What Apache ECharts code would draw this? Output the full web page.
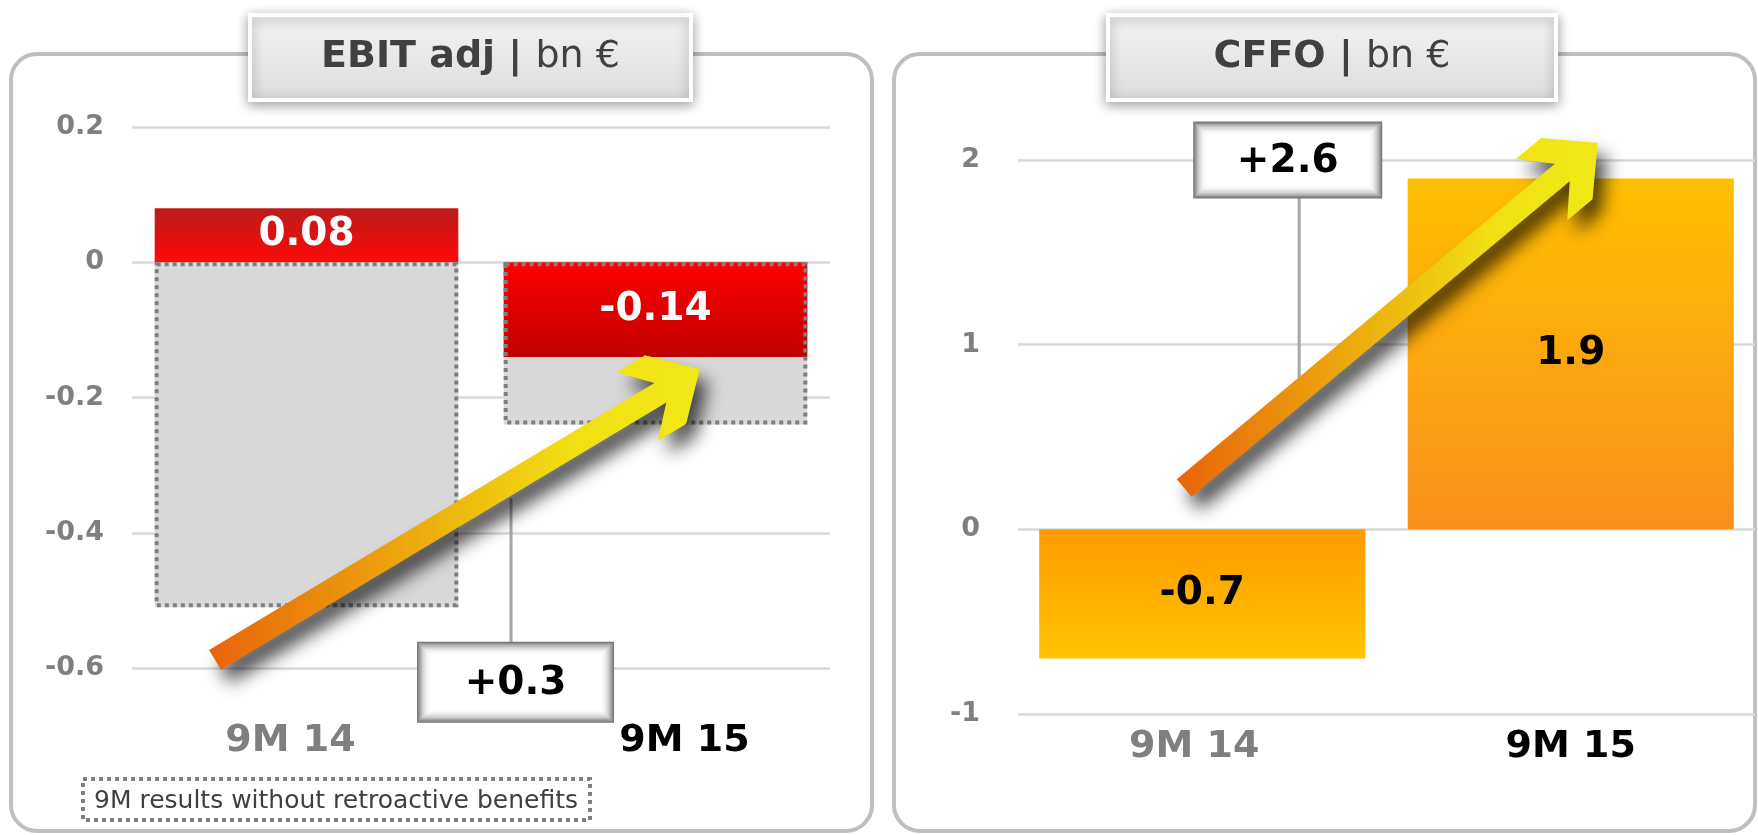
<!DOCTYPE html>
<html>
<head>
    <meta charset="UTF-8">
    <title>EBIT adj / CFFO</title>
    <script src="https://cdn.jsdelivr.net/npm/echarts@6/dist/echarts.min.js"></script>
    <style>
        body { margin: 0; background: #fff; }
        #chart { width: 1758px; height: 835px; }
    </style>
</head>
<body>
    <div id="chart"></div>
    <script>
        // data
        const categories = ['9M 14', '9M 15'];
        const ebitValues = [0.08, -0.14];
        const ebitNoRetro = [-0.51, -0.24];
        const cffoValues = [-0.7, 1.9];
        const ebitRange = [-0.6, 0.2, 0.2];   // min, max, step
        const cffoRange = [-1, 2, 1];
        const titles = ['EBIT adj', 'CFFO'];
        const unit = 'bn €';
        const deltas = ['+0.3', '+2.6'];
        const note = '9M results without retroactive benefits';

        const FONT = '"DejaVu Sans", Verdana, sans-serif';

        const chart = echarts.init(document.getElementById('chart'));

        function grad(top, bottom) {
            return { type: 'linear', x: 0, y: 0, x2: 0, y2: 1,
                colorStops: [{ offset: 0, color: top }, { offset: 1, color: bottom }] };
        }
        const redItem = v => ({ value: v, itemStyle: { color: v >= 0 ? grad('#bd1c1c', '#ff0808') : grad('#ff0000', '#c00000') } });
        const orangeItem = v => ({ value: v, itemStyle: { color: v >= 0 ? grad('#ffc000', '#f98f1d') : grad('#ff9a00', '#ffc400') } });

        const valueLabel = color => ({
            show: true, position: 'inside', color: color, fontFamily: FONT,
            fontWeight: 'bold', fontSize: 39
        });

        const yAxisBase = {
            type: 'value',
            axisLine: { show: false }, axisTick: { show: false },
            splitLine: { lineStyle: { color: '#d9d9d9', width: 2.5 } },
            axisLabel: { color: '#7f7f7f', fontFamily: FONT, fontWeight: 'bold', fontSize: 27 }
        };

        function xAxis(gridIndex, margin, pads) {
            return {
                type: 'category', gridIndex: gridIndex, data: categories,
                axisLine: { show: false }, axisTick: { show: false },
                axisLabel: {
                    margin: margin,
                    formatter: (v, i) => (i === 0 ? '{g|' : '{k|') + v + '}',
                    rich: {
                        g: { color: '#7f7f7f', fontFamily: FONT, fontWeight: 'bold', fontSize: 38, padding: pads[0] },
                        k: { color: '#000', fontFamily: FONT, fontWeight: 'bold', fontSize: 38, padding: pads[1] }
                    }
                }
            };
        }

        chart.setOption({
            animation: false,
            grid: [
                { left: 132, top: 127, width: 698, height: 541 },
                { left: 1018, top: 160, width: 737, height: 554 }
            ],
            xAxis: [
                xAxis(0, 54, [[0, 32, 0, 0], [0, 0, 0, 58]]),
                xAxis(1, 14, [[0, 16, 0, 0], [0, 0, 0, 0]])
            ],
            yAxis: [
                Object.assign({}, yAxisBase, { gridIndex: 0, min: ebitRange[0], max: ebitRange[1], interval: ebitRange[2],
                    axisLabel: Object.assign({}, yAxisBase.axisLabel, { margin: 28 }) }),
                Object.assign({}, yAxisBase, { gridIndex: 1, min: cffoRange[0], max: cffoRange[1], interval: cffoRange[2],
                    axisLabel: Object.assign({}, yAxisBase.axisLabel, { margin: 38 }) })
            ],
            series: [
                {   // grey area: results without retroactive benefits
                    type: 'bar', xAxisIndex: 0, yAxisIndex: 0, barWidth: '87%', barGap: '-100%',
                    data: ebitNoRetro, itemStyle: { color: '#d9d9d9' }, silent: true
                },
                {
                    type: 'bar', xAxisIndex: 0, yAxisIndex: 0, barWidth: '87%', barGap: '-100%',
                    data: ebitValues.map(redItem), label: valueLabel('#fff')
                },
                {   // dotted outline on top
                    type: 'bar', xAxisIndex: 0, yAxisIndex: 0, barWidth: '87%', barGap: '-100%',
                    data: ebitNoRetro, silent: true,
                    itemStyle: { color: 'rgba(0,0,0,0)', borderColor: '#7f7f7f', borderWidth: 4, borderType: [4, 4] }
                },
                {
                    type: 'bar', xAxisIndex: 1, yAxisIndex: 1, barWidth: '88.5%',
                    data: cffoValues.map(orangeItem), label: valueLabel('#000')
                }
            ]
        });

        // pixel position of (fractional category position, value) in a grid
        function px(g, catPos, val) {
            const c0 = chart.convertToPixel({ xAxisIndex: g }, categories[0]);
            const c1 = chart.convertToPixel({ xAxisIndex: g }, categories[1]);
            const y = chart.convertToPixel({ yAxisIndex: g }, val);
            return [c0 + catPos * (c1 - c0), y];
        }

        function arrow(tail, tip) {
            const dx = tip[0] - tail[0], dy = tip[1] - tail[1];
            const L = Math.sqrt(dx * dx + dy * dy);
            const u = [dx / L, dy / L], n = [u[1], -u[0]];
            const local = [[0, 11.5], [L - 46, 11.5], [L - 73, 40], [L - 40, 40], [L, 0],
                [L - 40, -40], [L - 73, -40], [L - 46, -11.5], [0, -11.5]];
            const pts = local.map(([a, b]) => [tail[0] + u[0] * a + n[0] * b, tail[1] + u[1] * a + n[1] * b]);
            return {
                type: 'polygon', z: 100, shape: { points: pts },
                style: {
                    fill: { type: 'linear', x: 0, y: 0, x2: 1, y2: 0, colorStops: [
                        { offset: 0, color: '#e8640a' }, { offset: 0.45, color: '#edb00e' },
                        { offset: 0.75, color: '#f1e014' }, { offset: 1, color: '#f2e816' }] },
                    shadowBlur: 18, shadowColor: 'rgba(0,0,0,0.7)', shadowOffsetX: 9, shadowOffsetY: 13
                }
            };
        }

        function deltaBox(cx, cy, w, h, text) {
            const shades = ['#777777', '#8f8f8f', '#a6a6a6', '#bababa', '#cbcbcb', '#d9d9d9', '#e4e4e4', '#eeeeee', '#f5f5f5', '#fafafa', '#fdfdfd', '#ffffff'];
            const els = shades.map((c, i) => ({
                type: 'rect', z: 90 + i,
                shape: { x: cx - w / 2 + i * 1.2, y: cy - h / 2 + i * 1.2, width: w - i * 2.4, height: h - i * 2.4 },
                style: { fill: c }
            }));
            els.push({
                type: 'text', z: 110, x: cx, y: cy + 2,
                style: { text: text, fill: '#000', font: 'bold 39px ' + FONT, align: 'center', verticalAlign: 'middle' }
            });
            return els;
        }

        function connector(x, y1, y2) {
            return { type: 'line', z: 89, shape: { x1: x, y1: y1, x2: x, y2: y2 }, style: { stroke: '#a6a6a6', lineWidth: 3 } };
        }

        function panel(x, title, boxX, boxW) {
            return [
                { type: 'rect', z: -10, shape: { x: x, y: 54, width: 861, height: 777, r: 26 },
                    style: { fill: '#fff', stroke: '#bfbfbf', lineWidth: 4 } },
                { type: 'rect', z: 50, shape: { x: boxX, y: 15, width: boxW, height: 85 },
                    style: { fill: grad('#f4f4f4', '#dcdcdc'), stroke: '#fff', lineWidth: 4,
                        shadowBlur: 12, shadowColor: 'rgba(0,0,0,0.35)', shadowOffsetY: 3 } },
                { type: 'text', z: 51, x: boxX + boxW / 2, y: 57,
                    style: { text: '{b|' + title + ' | }{n|' + unit + '}', align: 'center', verticalAlign: 'middle',
                        rich: {
                            b: { font: 'bold 38px ' + FONT, fill: '#404040' },
                            n: { font: '38px ' + FONT, fill: '#404040' }
                        } } }
            ];
        }

        const els = [].concat(
            panel(11, titles[0], 250, 441),
            panel(894, titles[1], 1108, 448)
        );

        // left callouts
        const lb = px(0, 0.599, -0.621);
        const lt = px(0, 0.586, -0.349);
        els.push(connector(lt[0], lt[1], lb[1] - 40));
        els.push(...deltaBox(lb[0], lb[1], 197, 81, deltas[0]));
        els.push(arrow(px(0, -0.262, -0.588), px(0, 1.127, -0.158)));

        // right callouts
        const rb = px(1, 0.232, 2.0);
        const rt = px(1, 0.263, 0.793);
        els.push(connector(rt[0], rb[1] + 38, rt[1]));
        els.push(...deltaBox(rb[0], rb[1], 189, 77, deltas[1]));
        els.push(arrow(px(1, -0.049, 0.224), px(1, 1.073, 2.092)));

        // note
        els.push({ type: 'rect', z: 20, shape: { x: 83, y: 779, width: 507, height: 41 },
            style: { fill: '#fff', stroke: '#7f7f7f', lineWidth: 4, lineDash: [4, 4] } });
        els.push({ type: 'text', z: 21, x: 336, y: 801,
            style: { text: note, fill: '#404040', font: '25px ' + FONT, align: 'center', verticalAlign: 'middle' } });

        chart.setOption({ graphic: els });
    </script>
</body>
</html>
